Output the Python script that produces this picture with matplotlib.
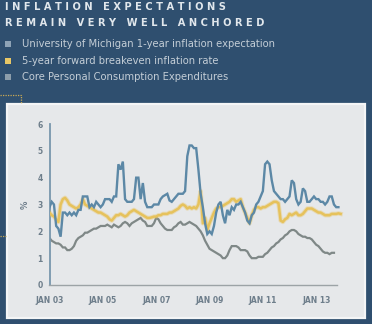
import numpy as np
import matplotlib
matplotlib.use("Agg")
import matplotlib.pyplot as plt
from matplotlib.patches import Rectangle
from matplotlib.lines import Line2D

# ---- data (monthly, starting Jan 2003) ----
start_year = 2003

michigan_1yr = [
    2.9, 3.1, 3.0, 2.2, 2.1, 1.8, 2.7, 2.7, 2.6, 2.7, 2.6, 2.7,   # 2003
    2.6, 2.8, 2.8, 3.3, 3.3, 3.3, 2.9, 3.0, 2.9, 3.1, 3.0, 2.9,   # 2004
    3.0, 3.2, 3.2, 3.2, 3.1, 3.3, 3.3, 4.5, 4.3, 4.6, 3.2, 3.1,   # 2005
    3.1, 3.1, 3.2, 4.0, 4.0, 3.2, 3.8, 3.1, 2.9, 2.9, 2.9, 3.0,   # 2006
    3.0, 3.0, 3.2, 3.3, 3.35, 3.4, 3.15, 3.1, 3.2, 3.3, 3.4, 3.4,  # 2007
    3.4, 3.5, 4.8, 5.2, 5.2, 5.1, 5.1, 4.3, 3.4, 2.9, 2.3, 1.9,   # 2008
    2.0, 1.9, 2.2, 2.7, 3.0, 3.1, 2.6, 2.3, 2.8, 2.6, 2.9, 2.8,   # 2009
    3.0, 3.0, 3.1, 2.9, 2.7, 2.4, 2.3, 2.6, 2.7, 3.0, 3.1, 3.3,   # 2010
    3.5, 4.5, 4.6, 4.5, 3.9, 3.5, 3.4, 3.3, 3.2, 3.2, 3.1, 3.2,   # 2011
    3.3, 3.9, 3.8, 3.2, 3.0, 3.1, 3.6, 3.5, 3.1, 3.1, 3.2, 3.3,   # 2012
    3.2, 3.2, 3.1, 3.1, 3.0, 3.1, 3.3, 3.3, 3.0, 2.9, 2.9,        # 2013
]

breakeven_5y5y = [
    2.7, 2.6, 2.55, 2.45, 2.35, 3.0, 3.2, 3.25, 3.15, 3.0, 2.95, 2.9,   # 2003
    2.85, 2.9, 3.0, 3.2, 3.0, 2.95, 2.9, 2.85, 2.8, 2.75, 2.7, 2.7,     # 2004
    2.65, 2.6, 2.55, 2.45, 2.4, 2.5, 2.6, 2.6, 2.65, 2.6, 2.55, 2.6,    # 2005
    2.7, 2.75, 2.8, 2.75, 2.7, 2.65, 2.6, 2.55, 2.5, 2.5, 2.52, 2.55,   # 2006
    2.55, 2.6, 2.6, 2.65, 2.65, 2.65, 2.7, 2.7, 2.75, 2.8, 2.85, 2.95,  # 2007
    3.0, 2.95, 2.85, 2.9, 2.85, 2.9, 2.85, 3.0, 3.5, 2.3, 2.5, 2.05,    # 2008
    2.3, 2.5, 2.7, 2.85, 2.9, 2.9, 2.95, 3.0, 3.05, 3.1, 3.2, 3.2,      # 2009
    3.1, 3.15, 3.2, 2.9, 2.7, 2.5, 2.3, 2.6, 2.8, 2.9, 2.9, 2.85,       # 2010
    2.9, 2.9, 2.95, 3.0, 3.05, 3.1, 3.1, 3.05, 2.4, 2.35, 2.45, 2.5,    # 2011
    2.65, 2.6, 2.65, 2.7, 2.6, 2.6, 2.65, 2.75, 2.85, 2.85, 2.85, 2.8,  # 2012
    2.75, 2.7, 2.7, 2.65, 2.6, 2.6, 2.6, 2.65, 2.65, 2.65, 2.67, 2.65,  # 2013
]

core_pce = [
    1.75, 1.65, 1.6, 1.55, 1.55, 1.5, 1.4, 1.4, 1.3, 1.3, 1.35, 1.45,   # 2003
    1.65, 1.75, 1.8, 1.85, 1.95, 1.95, 2.0, 2.05, 2.1, 2.1, 2.15, 2.2,  # 2004
    2.2, 2.2, 2.25, 2.2, 2.15, 2.25, 2.2, 2.15, 2.2, 2.3, 2.35, 2.3,    # 2005
    2.2, 2.3, 2.35, 2.4, 2.45, 2.5, 2.4, 2.35, 2.2, 2.2, 2.2, 2.3,      # 2006
    2.5, 2.45, 2.3, 2.2, 2.1, 2.05, 2.05, 2.05, 2.15, 2.2, 2.3, 2.35,   # 2007
    2.25, 2.25, 2.3, 2.35, 2.3, 2.25, 2.2, 2.1, 2.0, 1.85, 1.65, 1.5,   # 2008
    1.35, 1.3, 1.25, 1.2, 1.15, 1.1, 1.0, 1.0, 1.1, 1.3, 1.45, 1.45,    # 2009
    1.45, 1.4, 1.3, 1.3, 1.3, 1.25, 1.1, 1.0, 1.0, 1.0, 1.05, 1.05,     # 2010
    1.05, 1.15, 1.2, 1.3, 1.4, 1.45, 1.55, 1.6, 1.7, 1.75, 1.85, 1.9,   # 2011
    2.0, 2.05, 2.05, 2.0, 1.9, 1.85, 1.8, 1.8, 1.75, 1.75, 1.7, 1.6,    # 2012
    1.5, 1.45, 1.35, 1.25, 1.2, 1.2, 1.15, 1.2, 1.2,                    # 2013
]

series_labels = [
    "University of Michigan 1-year inflation expectation",
    "5-year forward breakeven inflation rate",
    "Core Personal Consumption Expenditures",
]
title_lines = ["INFLATION EXPECTATIONS", "REMAIN VERY WELL ANCHORED"]
x_tick_years = [2003, 2005, 2007, 2009, 2011, 2013]
x_tick_labels = ["JAN 03", "JAN 05", "JAN 07", "JAN 09", "JAN 11", "JAN 13"]
y_ticks = [0, 1, 2, 3, 4, 5, 6]


def month_axis(values):
    return start_year + np.arange(len(values)) / 12.0


# ---- styling ----
NAVY = "#2F4F6F"
PANEL = "#E6E8EA"
BLUE = "#5C88A6"
YELLOW = "#E6C25C"
GREY = "#7F8887"
TICK = "#6E7E8B"
LEGEND_TXT = "#C3CDD6"

W, H = 372, 324
fig = plt.figure(figsize=(W / 100, H / 100), dpi=100)
fig.patch.set_facecolor(NAVY)


def fx(px):
    return px / W


def fy(py):
    return 1 - py / H


# light chart panel with a pale frame
fig.add_artist(Rectangle((fx(7), fy(318)), fx(365) - fx(7), fy(104) - fy(318),
                         transform=fig.transFigure, facecolor=PANEL,
                         edgecolor="#F4F5F6", lw=1.6, zorder=0))

# dotted gold accents around the panel corner
fig.add_artist(Line2D([fx(0), fx(21), fx(21)], [fy(95), fy(95), fy(104)],
                      transform=fig.transFigure, color="#C9A955", lw=0.9,
                      ls=(0, (1, 1)), zorder=0.5))
fig.add_artist(Line2D([fx(0), fx(6)], [fy(236), fy(236)],
                      transform=fig.transFigure, color="#C9A955", lw=0.9,
                      ls=(0, (1, 1)), zorder=0.5))

# title (tracked capitals)
spaced = ["   ".join(" ".join(w) for w in line.split(" ")) for line in title_lines]
fig.text(fx(5), fy(7.5), spaced[0], fontsize=7.1, weight="bold", color="#E1E7EC",
         va="center", ha="left")
fig.text(fx(5), fy(22.5), spaced[1], fontsize=7.1, weight="bold", color="#E1E7EC",
         va="center", ha="left")

# legend
legend_colors = ["#8EA3B6", "#E8C766", "#8C9DAA"]
for i, (lab, col) in enumerate(zip(series_labels, legend_colors)):
    yc = [44, 61, 77][i]
    fig.add_artist(Rectangle((fx(5), fy(yc + 2.5)), fx(5.5), 5.5 / H,
                             transform=fig.transFigure, facecolor=col,
                             edgecolor="none"))
    fig.text(fx(22), fy(yc), lab, fontsize=7.2, color=LEGEND_TXT,
             va="center", ha="left")

# chart axes
ax_left, ax_right = 49.5, 345
ax_bottom, ax_top = 285, 124
ax = fig.add_axes([fx(ax_left), fy(ax_bottom), fx(ax_right) - fx(ax_left),
                   fy(ax_top) - fy(ax_bottom)])
ax.set_facecolor("none")
px_per_year = 26.67
ax.set_xlim(2003, 2003 + (ax_right - ax_left) / px_per_year)
ax.set_ylim(0, 6)

x_grey = month_axis(core_pce)
x_yel = month_axis(breakeven_5y5y)
x_blue = month_axis(michigan_1yr)

ax.plot(x_grey, core_pce, color=GREY, lw=1.6, solid_joinstyle="miter", zorder=2)
ax.plot(x_yel, breakeven_5y5y, color=YELLOW, lw=3.2, alpha=0.35, zorder=3)
ax.plot(x_yel, breakeven_5y5y, color=YELLOW, lw=1.8, zorder=3)
ax.plot(x_blue, michigan_1yr, color=BLUE, lw=1.7, solid_joinstyle="miter", zorder=4)

for s in ("top", "right"):
    ax.spines[s].set_visible(False)
ax.spines["left"].set_color("#7897AD")
ax.spines["left"].set_linewidth(1.3)
ax.spines["bottom"].set_color("#9CA3A6")
ax.spines["bottom"].set_linewidth(1.0)
ax.spines["bottom"].set_bounds(2003, 2013.78)

ax.set_xticks(x_tick_years)
ax.set_xticklabels(x_tick_labels)
ax.set_yticks(y_ticks)
ax.set_yticklabels([str(v) for v in y_ticks])
ax.tick_params(axis="both", length=0, colors=TICK, labelsize=5.5)
ax.tick_params(axis="x", pad=8)
ax.tick_params(axis="y", pad=5)
for lbl in ax.get_xticklabels() + ax.get_yticklabels():
    lbl.set_fontweight("bold")

fig.text(fx(25), fy(205), "%", rotation=90, fontsize=6, color=TICK,
         ha="center", va="center", weight="bold")

fig.savefig("out.png", dpi=100, facecolor=NAVY)
